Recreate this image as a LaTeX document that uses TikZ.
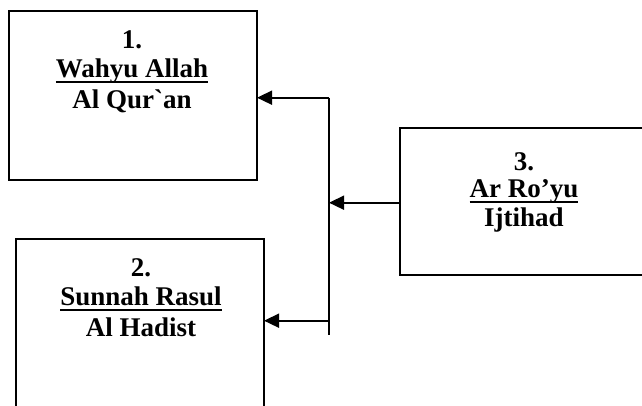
\documentclass[tikz,border=0pt]{standalone}
\usepackage{fontspec}
\setmainfont{Liberation Serif}[Ligatures=TeXOff]
\usetikzlibrary{arrows.meta}
% underline set at a fixed depth below the baseline
\newcommand{\lineunder}[1]{\setbox0\hbox{#1}\rlap{\rule[-5.4pt]{\wd0}{1.9pt}}\box0}
\tikzset{
  box/.style={draw=black, line width=1.6pt, fill=none},
  txt/.style={anchor=base, inner sep=0pt, font=\fontsize{27}{30}\selectfont\bfseries},
  wire/.style={line width=1.6pt},
  arr/.style={line width=1.6pt, -{Triangle[length=15pt,width=14pt]}},
}
\begin{document}
\begin{tikzpicture}[x=1pt, y=-1pt]
  \useasboundingbox (0,0) rectangle (642,405);
  \clip (0,0) rectangle (642,405);
  \fill[white] (0,0) rectangle (642,405);

  % the three boxes
  \draw[box] (9,11) coordinate (b1nw) rectangle (257,180) coordinate (b1se);
  \draw[box] (16,239) coordinate (b2nw) rectangle (264,430) coordinate (b2se);
  \draw[box] (400,128) coordinate (b3nw) rectangle (660,275) coordinate (b3se);
  \coordinate (b1e) at (257,97.7);
  \coordinate (b2e) at (264,320.7);
  \coordinate (b3w) at (400,202.7);

  % box texts
  \node[txt] (t1a) at (132,48.3) {1.};
  \node[txt] (t1b) at (132,77.3) {\lineunder{Wahyu Allah}};
  \node[txt] (t1c) at (132,108.3) {Al Qur`an};

  \node[txt] (t2a) at (141,276.7) {2.};
  \node[txt] (t2b) at (141,305.5) {\lineunder{Sunnah Rasul}};
  \node[txt] (t2c) at (141,336.5) {Al Hadist};

  \node[txt] (t3a) at (524,170.7) {3.};
  \node[txt] (t3b) at (524,197.3) {\lineunder{Ar Ro’yu}};
  \node[txt] (t3c) at (524,226) {Ijtihad};

  % vertical bus and arrows
  \coordinate (bustop) at (329,97.7);
  \coordinate (busbot) at (329,335);
  \draw[wire] (bustop) -- (busbot);
  \draw[arr] (bustop) -- (b1e);
  \draw[arr] (b2e -| bustop) -- (b2e);
  \draw[arr] (b3w) -- (b3w -| bustop);
\end{tikzpicture}
\end{document}
